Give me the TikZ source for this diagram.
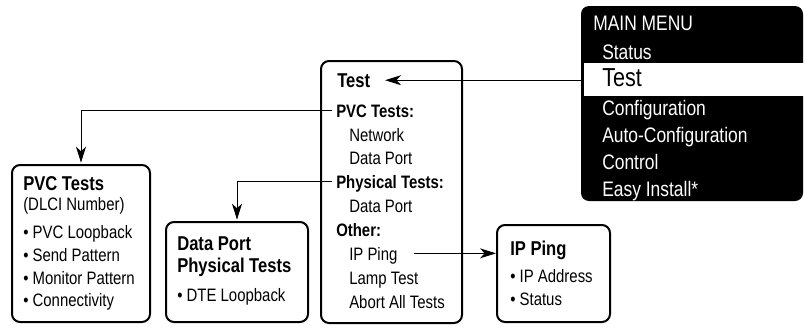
\documentclass[tikz,border=0pt]{standalone}
\usepackage{fontspec}
\setmainfont{Liberation Sans}[FakeStretch=0.83]
\usetikzlibrary{arrows.meta,fit}
\begin{document}
\begin{tikzpicture}[x=0.75pt,y=-0.75pt,
  box/.style={draw, line width=1.5pt, rounded corners=6pt, inner sep=0pt},
  txt/.style={anchor=base west, inner sep=0pt, font=\fontsize{13.5}{16}\selectfont},
  hd/.style={txt, font=\fontsize{13.5}{16}\selectfont\bfseries},
  ttl/.style={txt, font=\fontsize{15}{18}\selectfont\bfseries},
  mm/.style={txt, text=white, font=\fontsize{15.75}{18}\selectfont},
  conn/.style={line width=0.75pt, -{Stealth[length=12pt,width=7.5pt,inset=3.5pt]}}]
\useasboundingbox (0,0) rectangle (804,329);
% main menu
\node[fill=black, rounded corners=6pt, inner sep=0pt, fit={(581,6) (803,201)}] (menu) {};
\node[fill=white, inner sep=0pt, fit={(584,63) (804,96)}] (bar) {};
\node[mm] (m0) at (593,30) {MAIN MENU};
\node[mm] (m1) at (602,59) {Status};
\node[txt, font=\fontsize{19.5}{22}\selectfont] (m2) at (602,86) {Test};
\node[mm] (m3) at (602,115) {Configuration};
\node[mm] (m4) at (602,142) {Auto-Configuration};
\node[mm] (m5) at (602,169) {Control};
\node[mm] (m6) at (602,196) {Easy Install*};
% test box
\node[box, fit={(321,61) (462,323)}] (testbox) {};
\node[ttl] (ttitle) at (337,87) {Test};
\node[hd] (pvch) at (336,117) {PVC Tests:};
\node[txt] (t1) at (349,141) {Network};
\node[txt] (t2) at (349,164) {Data Port};
\node[hd] (phh) at (336,188) {Physical Tests:};
\node[txt] (t3) at (349,212) {Data Port};
\node[hd] (oth) at (336,236) {Other:};
\node[txt] (ipp) at (349,260) {IP Ping};
\node[txt] (t4) at (349,284) {Lamp Test};
\node[txt] (t5) at (349,308) {Abort All Tests};
% PVC box
\node[box, fit={(12,165) (150,322)}] (pvcbox) {};
\node[ttl] (p0) at (23,190) {PVC Tests};
\node[txt] (p1) at (23,210) {(DLCI Number)};
\node[txt] (p2) at (23,238) {• PVC Loopback};
\node[txt] (p3) at (23,261) {• Send Pattern};
\node[txt] (p4) at (23,284) {• Monitor Pattern};
\node[txt] (p5) at (23,306) {• Connectivity};
% data port box
\node[box, fit={(166,222) (308,322)}] (dpbox) {};
\node[ttl] (d0) at (177,250) {Data Port};
\node[ttl] (d1) at (177,272) {Physical Tests};
\node[txt] (d2) at (177,301) {• DTE Loopback};
% IP ping box
\node[box, fit={(497,225) (610,322)}] (ipbox) {};
\node[ttl] (i0) at (510,255) {IP Ping};
\node[txt] (i1) at (510,282) {• IP Address};
\node[txt] (i2) at (510,305) {• Status};
% connectors
\draw[conn] (ttitle.east -| menu.west) -- ([xshift=11pt]ttitle.east);
\draw[conn] ([xshift=-3pt]pvch.west) -| ([yshift=1pt]pvcbox.north);
\draw[conn] ([shift={(-3pt,5pt)}]phh.base west) -| ([yshift=1pt]dpbox.north);
\draw[conn] ([shift={(12pt,5pt)}]ipp.base east) coordinate (ips) -- (ips -| ipbox.west);
\end{tikzpicture}
\end{document}
